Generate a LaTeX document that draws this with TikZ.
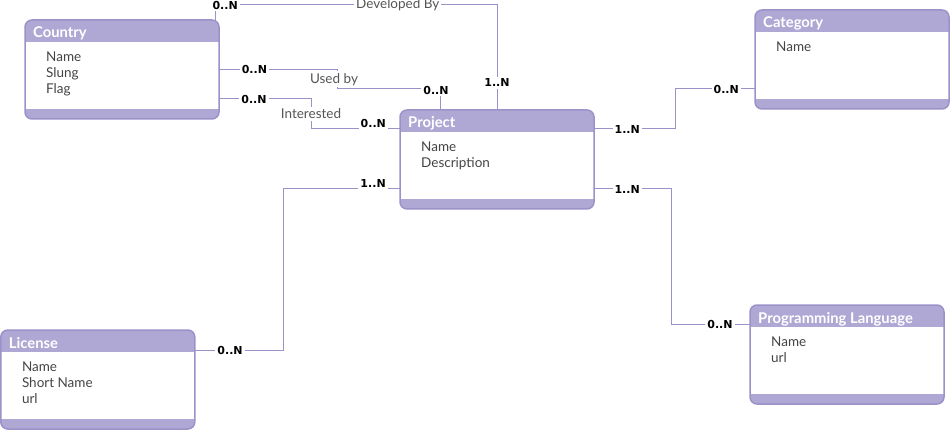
\documentclass[tikz,border=0pt]{standalone}
\usepackage{fontspec}
\setmainfont{Lato}
\newfontfamily\cardfont{DejaVu Sans}
\usetikzlibrary{calc}
\usetikzlibrary{positioning}

\definecolor{erline}{HTML}{9A93C9}
\definecolor{erhead}{HTML}{AFA8D4}
\definecolor{erattr}{HTML}{444444}
\definecolor{errel}{HTML}{555555}

\tikzset{
 entity/.style={draw=erline, line width=1.5pt, rounded corners=7pt, fill=white,
  anchor=north west, inner sep=0pt, outer sep=0pt,
  minimum width=194pt, minimum height=99pt,
  path picture={
   \fill[erhead, sharp corners] (path picture bounding box.north west) rectangle ([yshift=-22pt]path picture bounding box.north east);
   \fill[erhead, sharp corners] (path picture bounding box.south west) rectangle ([yshift=10pt]path picture bounding box.south east);
  }},
 etitle/.style={anchor=base west, inner sep=0pt, text=white, font=\fontsize{14.8}{16}\selectfont\bfseries},
 eattr/.style={anchor=north west, inner sep=0pt, align=left, text=erattr, font=\fontsize{13.5}{16}\selectfont},
 link/.style={draw=erline, line width=1pt},
 card/.style={fill=white, inner sep=2pt, font=\cardfont\bfseries\fontsize{11}{12}\selectfont},
 rel/.style={fill=white, inner sep=2pt, text=errel, font=\fontsize{13.5}{16}\selectfont}
}

\begin{document}
\begin{tikzpicture}[x=1pt,y=-1pt]
\useasboundingbox (0,0) rectangle (950,430);

\node[entity] (country) at (25,20) {};
\node[etitle] at ([xshift=8pt,yshift=-18pt]country.north west) {Country};
\node[eattr] at ([xshift=21pt,yshift=-31.5pt]country.north west) {Name\\Slung\\Flag};

\node[entity] (project) at (400,110) {};
\node[etitle] at ([xshift=8pt,yshift=-18pt]project.north west) {Project};
\node[eattr] at ([xshift=21pt,yshift=-31.5pt]project.north west) {Name\\Description};

\node[entity] (category) at (755,10) {};
\node[etitle] at ([xshift=8pt,yshift=-18pt]category.north west) {Category};
\node[eattr] at ([xshift=21pt,yshift=-31.5pt]category.north west) {Name};

\node[entity] (license) at (0.8,330) {};
\node[etitle] at ([xshift=8pt,yshift=-18pt]license.north west) {License};
\node[eattr] at ([xshift=21pt,yshift=-31.5pt]license.north west) {Name\\Short Name\\url};

\node[entity] (proglang) at (750,305) {};
\node[etitle] at ([xshift=8pt,yshift=-18pt]proglang.north west) {Programming Language};
\node[eattr] at ([xshift=21pt,yshift=-31.5pt]proglang.north west) {Name\\url};

\draw[link] ([xshift=-4pt]country.north east) -- ++(0,-15)
 -| node[card,pos=0.018]{0..N} node[rel,pos=0.324]{Developed By} node[card,pos=0.87]{1..N} (project.north);

\draw[link] (country.east) -- node[card,pos=0.3]{0..N} ++(118,0)
 -- node[rel,xshift=-3pt]{Used by} ++(0,19.5) -- ++(103,0) coordinate (usedby)
 -- ([xshift=40pt]project.north west);
\node[card] at ([xshift=-4pt,yshift=-1pt]usedby) {0..N};

\draw[link] ([yshift=20pt]country.south east) -- node[card,pos=0.38]{0..N} ++(92,0)
 -- node[rel]{Interested} ++(0,30)
 -- node[card,pos=0.7,yshift=6pt]{0..N} ([yshift=-19pt]project.north west);

\draw[link] ([yshift=20pt]project.south west) -- node[card,pos=0.23,yshift=6pt]{1..N} ++(-117,0)
 |- node[card,pos=0.8]{0..N} ([yshift=-20pt]license.north east);

\draw[link] ([yshift=-19pt]project.north east) -- node[card,pos=0.41]{1..N} ++(81,0)
 |- node[card,pos=0.82]{0..N} ([yshift=20pt]category.south west);

\draw[link] ([yshift=20pt]project.south east) -- node[card,pos=0.43]{1..N} ++(77,0)
 |- node[card,pos=0.81]{0..N} ([yshift=-19pt]proglang.north west);
\end{tikzpicture}
\end{document}
